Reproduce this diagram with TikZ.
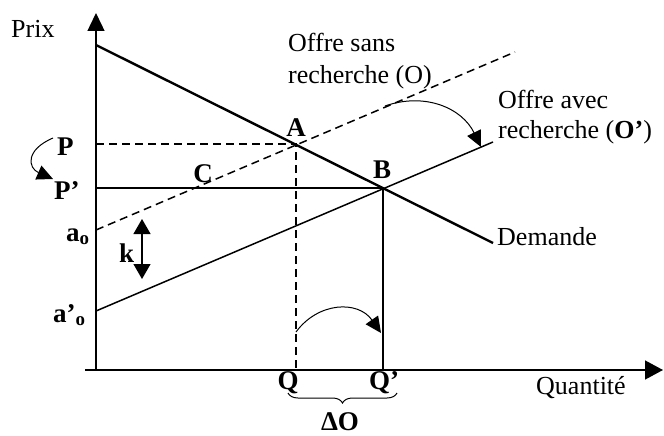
\documentclass[tikz,border=0pt]{standalone}
\usepackage{fontspec}
\setmainfont{Liberation Serif}
\usetikzlibrary{arrows.meta,calc,positioning,decorations.pathreplacing}

\begin{document}
\begin{tikzpicture}[x=1pt,y=-1pt,font=\fontsize{26}{30}\selectfont,
    axe/.style={line width=1.4pt},
    courbe/.style={line width=1.5pt},
    tirets/.style={line width=1.5pt,dash pattern=on 8pt off 5pt},
    fleche/.style={line width=1pt,-{Triangle[length=16pt,width=15pt]}},
    lbl/.style={inner sep=0pt,anchor=base west},
    pt/.style={inner sep=0pt,anchor=base,font=\fontsize{27}{30}\selectfont\bfseries}]
        \useasboundingbox (0,0) rectangle (664,436);
        % points of the graph
        \coordinate (O) at (96,370);
        \coordinate (A) at (296,144);
        \coordinate (B) at (383,188);
        \coordinate (ao) at (96,230);
        \coordinate (apo) at (96,311);
        \coordinate (P) at (96,144);
        \coordinate (Pp) at (96,188);
        \coordinate (Q) at (296,370);
        \coordinate (Qp) at (383,370);
        % axis
        \draw[axe,-{Triangle[length=18pt,width=17pt]}] (O) -- (96,13);
        \draw[axe,-{Triangle[length=18pt,width=19pt]}] (85,370) -- (663,370);
        \node[lbl] (prix) at (11,38) {Prix};
        \node[lbl] (quant) at (536,394) {Quantité};
        % demand and supply
        \draw[line width=2.4pt] (96,45) -- (493,243);
        \draw[tirets] (ao) -- (515,52);
        \draw[courbe] (apo) -- (493,142);
        \node[lbl] (dem) at (497,245) {Demande};
        \node[lbl] (offre1) at (288,52) {Offre sans};
        \node[lbl] (offre1b) at (288,83) {recherche (O)};
        \node[lbl] (offre2) at (498,108) {Offre avec};
        \node[lbl] (offre2b) at (498,138) {recherche (\textbf{O’})};
        % prices and quantities
        \draw[tirets] (P) -- (A) -- (Q);
        \draw[courbe] (Pp) -- (B) -- (Qp);
        \node[pt] (lA) at (296,136) {A};
        \node[pt] (lB) at (382,178) {B};
        \node[pt] (lC) at (203,182) {C};
        \node[pt,anchor=base west] (lP) at (57,155) {P};
        \node[pt,anchor=base west] (lPp) at (54,199) {P’};
        \node[pt,anchor=base west] (lao) at (66,241) {a\textsubscript{o}};
        \node[pt,anchor=base west] (lapo) at (53,322) {a’\textsubscript{o}};
        \node[pt,anchor=base west] (lk) at (119,262) {k};
        \node[pt] (lQ) at (288,389) {Q};
        \node[pt] (lQp) at (384,389) {Q’};
        \node[pt] (dO) at (340,430) {ΔO};
        % shifts
        \draw[line width=1.2pt,{Triangle[length=15pt,width=17pt]}-{Triangle[length=15pt,width=17pt]}] (142,219) -- (142,279);
        \draw[fleche] (53,138) .. controls (25,150) and (28,168) .. (53,179);
        \draw[fleche] (385,106) .. controls (425,92) and (462,108) .. (481,147);
        \draw[fleche] (296,332) .. controls (318,302) and (358,300) .. (381,333);
        \draw[line width=1pt,decorate,decoration={brace,mirror,amplitude=10pt}] (288,393) -- (397,393);
\end{tikzpicture}
\end{document}
